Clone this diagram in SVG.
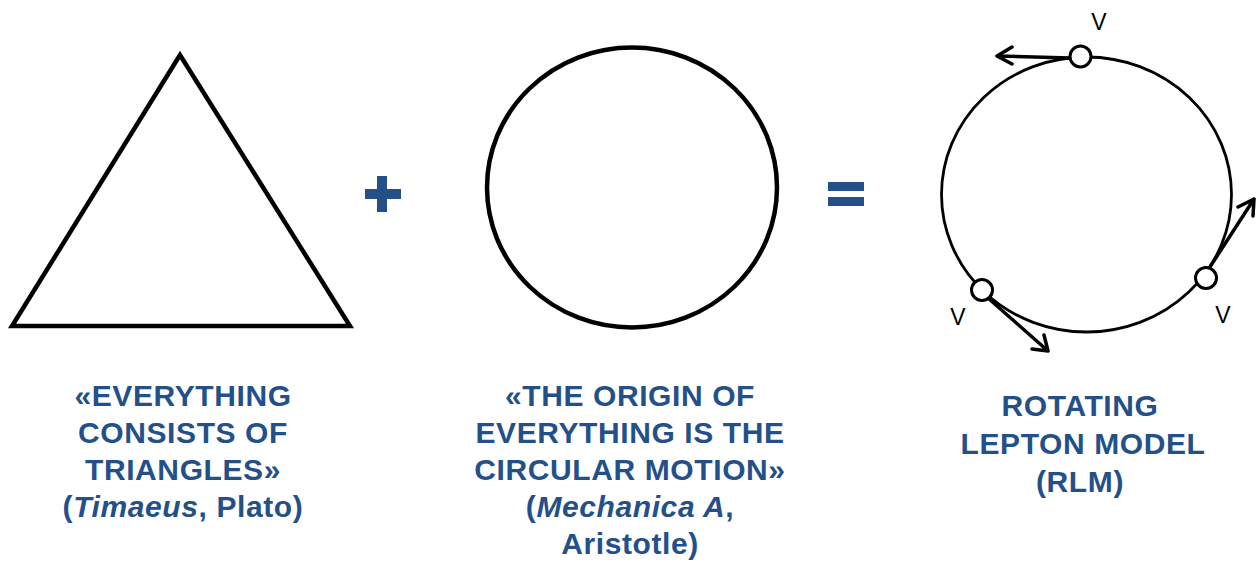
<svg xmlns="http://www.w3.org/2000/svg" width="1260" height="562" viewBox="0 0 1260 562">
<style>
.lbl{font-family:"Liberation Sans",Arial,sans-serif;font-weight:bold;font-size:30px;letter-spacing:0.6px;fill:#24508A;text-anchor:middle}
.v{font-family:"Liberation Sans",Arial,sans-serif;font-size:23px;fill:#000;text-anchor:middle}
.shape{fill:none;stroke:#000}
.arr{fill:none;stroke:#000;stroke-width:3.5;stroke-linecap:round;stroke-linejoin:round}
.op{fill:#24508A}
</style>
<rect width="1260" height="562" fill="#fff"/>
<g id="triangle">
<polygon class="shape" stroke-width="4.5" stroke-linejoin="miter" points="180,55 12,326 350,326"/>
<text class="lbl" x="183" y="406">«EVERYTHING</text>
<text class="lbl" x="183" y="443">CONSISTS OF</text>
<text class="lbl" x="183" y="480">TRIANGLES»</text>
<text class="lbl" x="183" y="517">(<tspan font-style="italic">Timaeus</tspan>, Plato)</text>
</g>
<g id="plus">
<rect class="op" x="365" y="189" width="36" height="10"/>
<rect class="op" x="377" y="176" width="10" height="36"/>
</g>
<g id="circle">
<ellipse class="shape" stroke-width="4.5" cx="632" cy="187.5" rx="145" ry="140"/>
<text class="lbl" x="630" y="406">«THE ORIGIN OF</text>
<text class="lbl" x="630" y="443">EVERYTHING IS THE</text>
<text class="lbl" x="630" y="480">CIRCULAR MOTION»</text>
<text class="lbl" x="630" y="517">(<tspan font-style="italic">Mechanica A</tspan>,</text>
<text class="lbl" x="630" y="554">Aristotle)</text>
</g>
<g id="equals">
<rect class="op" x="828" y="182" width="36" height="9"/>
<rect class="op" x="828" y="197" width="36" height="9"/>
</g>
<g id="rlm">
<ellipse class="shape" stroke-width="2.8" cx="1086.5" cy="194.5" rx="145" ry="137.5"/>
<text class="lbl" x="1080" y="416">ROTATING</text>
<text class="lbl" x="1083" y="454">LEPTON MODEL</text>
<text class="lbl" x="1080" y="492">(RLM)</text>
</g>
<g id="connectors">
<path class="arr" d="M1070,58 L997,56 M1012,47 L997,56 L1012,64"/>
<path class="arr" d="M988,298 L1048,351 M1032,349 L1048,351 L1044,335"/>
<path class="arr" d="M1208,270 L1254,199 M1238,207 L1254,199 L1253,216"/>
</g>
<g id="particles">
<circle cx="1080.5" cy="56.5" r="10.5" fill="#fff" stroke="#000" stroke-width="3"/>
<circle cx="982" cy="290" r="10.5" fill="#fff" stroke="#000" stroke-width="3"/>
<circle cx="1206" cy="278" r="10.5" fill="#fff" stroke="#000" stroke-width="3"/>
<text class="v" x="1099" y="30">V</text>
<text class="v" x="958" y="325">V</text>
<text class="v" x="1223" y="323">V</text>
</g>
</svg>
